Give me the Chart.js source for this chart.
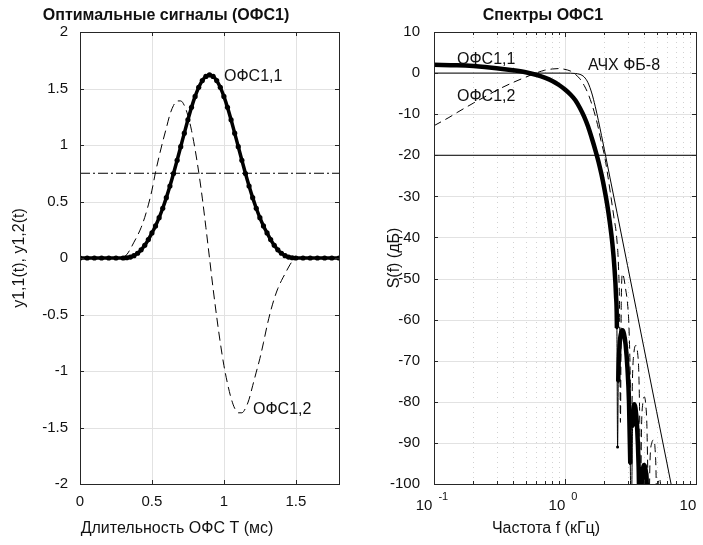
<!DOCTYPE html>
<html>
<head>
<meta charset="utf-8">
<script src="https://cdn.jsdelivr.net/npm/chart.js@4.4.1/dist/chart.umd.min.js"></script>
<style>
body { margin: 0; background: #fff; }
#wrap { position: relative; width: 703px; height: 545px; overflow: hidden; }
canvas { position: absolute; top: 0; }
</style>
</head>
<body>
<div id="wrap">
  <canvas id="sigChart" width="350" height="545" style="left:0"></canvas>
  <canvas id="specChart" width="353" height="545" style="left:350px"></canvas>
</div>
<script>
// ---- левый график: оптимальные сигналы ----
var timeMs = [0, 0.05, 0.1, 0.15, 0.2, 0.25,
  0.3, 0.325, 0.35, 0.375, 0.4, 0.425, 0.45, 0.475, 0.5, 0.525, 0.55, 0.575,
  0.6, 0.625, 0.65, 0.675, 0.7, 0.725, 0.75, 0.775, 0.8, 0.825, 0.85, 0.875,
  0.9, 0.925, 0.95, 0.975, 1.0, 1.025, 1.05, 1.075, 1.1, 1.125, 1.15, 1.175,
  1.2, 1.225, 1.25, 1.275, 1.3, 1.325, 1.35, 1.375, 1.4, 1.425, 1.45, 1.475, 1.5,
  1.55, 1.6, 1.65, 1.7, 1.75, 1.8];
var ofs11 = [0, 0, 0, 0, 0, 0,
  0, 0.002, 0.008, 0.021, 0.042, 0.072, 0.112, 0.163, 0.222, 0.284, 0.357, 0.440,
  0.534, 0.637, 0.748, 0.865, 0.985, 1.105, 1.223, 1.333, 1.430, 1.510, 1.570, 1.607,
  1.620, 1.607, 1.570, 1.510, 1.430, 1.333, 1.223, 1.105, 0.985, 0.865, 0.748, 0.637,
  0.534, 0.440, 0.357, 0.284, 0.222, 0.163, 0.112, 0.072, 0.042, 0.021, 0.008, 0.002, 0,
  0, 0, 0, 0, 0, 0];

var timeMs2 = [0.3, 0.325, 0.35, 0.375, 0.4, 0.425, 0.45, 0.475, 0.5, 0.525, 0.55, 0.575,
  0.6, 0.625, 0.65, 0.675, 0.7, 0.725, 0.75, 0.775, 0.8, 0.825, 0.85, 0.875,
  0.9, 0.925, 0.95, 0.975, 1.0, 1.025, 1.05, 1.075, 1.1, 1.125, 1.15, 1.175,
  1.2, 1.225, 1.25, 1.275, 1.3, 1.325, 1.35, 1.375, 1.4, 1.425, 1.45, 1.475, 1.5];
var ofs12 = [0.01, 0.03, 0.08, 0.14, 0.20, 0.27, 0.36, 0.47, 0.60, 0.76, 0.90, 1.03,
  1.15, 1.27, 1.35, 1.39, 1.39, 1.35, 1.26, 1.13, 0.96, 0.76, 0.53, 0.27,
  0, -0.27, -0.52, -0.75, -0.95, -1.11, -1.24, -1.33, -1.37, -1.37, -1.33, -1.25,
  -1.13, -1.01, -0.89, -0.75, -0.60, -0.47, -0.36, -0.27, -0.20, -0.14, -0.08, -0.03, -0.01];

var levelT = [0, 1.8];
var levelY = [0.75, 0.75];

var tTicks = [0, 0.5, 1, 1.5];
var tTickText = ['0', '0.5', '1', '1.5'];
var yTicksL = [-2, -1.5, -1, -0.5, 0, 0.5, 1, 1.5, 2];
var yTickTextL = ['-2', '-1.5', '-1', '-0.5', '0', '0.5', '1', '1.5', '2'];

// ---- правый график: спектры (кГц, дБ) ----
var specF11 = [0.1, 0.15, 0.2, 0.3, 0.4, 0.5, 0.6, 0.7, 0.8, 0.9, 1.0, 1.1, 1.2, 1.3, 1.4,
  1.5, 1.6, 1.7, 1.8, 1.9, 2.0, 2.1, 2.2, 2.3, 2.38, 2.45, 2.49, 2.52, 2.55, 2.6,
  2.67, 2.75, 2.82, 2.9, 3.0, 3.08, 3.15, 3.2, 3.28, 3.33, 3.38, 3.45, 3.55, 3.65,
  3.72, 3.85, 3.95, 4.03, 4.12, 4.22, 4.3];
var specDb11 = [2.0, 1.9, 1.7, 1.2, 0.7, 0.2, -0.4, -1.1, -1.9, -2.9, -4.0, -5.2, -6.6, -8.5, -10.6,
  -13.0, -15.8, -18.6, -21.5, -24.7, -28.2, -32.0, -36.4, -41.5, -47.0, -54.0, -62, -91, -75, -67,
  -63.5, -62.6, -63.5, -66, -72, -80, -95, -110, -86, -81.5, -80.6, -81.5, -86, -96,
  -110, -100, -96, -95.4, -96.5, -101, -115];

var specF12 = [0.1, 0.13, 0.15, 0.2, 0.25, 0.3, 0.4, 0.5, 0.6, 0.7, 0.8, 0.9, 1.0, 1.1, 1.2,
  1.3, 1.4, 1.5, 1.6, 1.7, 1.8, 1.88, 2.0, 2.1, 2.24, 2.36, 2.48, 2.56, 2.61, 2.65,
  2.69, 2.75, 2.82, 2.9, 3.0, 3.08, 3.15, 3.2, 3.27, 3.36, 3.48, 3.58, 3.66, 3.72,
  3.77, 3.84, 3.92, 4.03, 4.13, 4.22, 4.3, 4.36, 4.45, 4.6, 4.74, 4.86, 4.96, 5.02,
  5.1, 5.25, 5.38, 5.5];
var specDb12 = [-12.8, -10.8, -9.6, -7.3, -5.6, -4.2, -2.3, -1.0, 0.0, 0.7, 1.0, 1.1, 0.9, 0.5, -0.3,
  -1.4, -3.0, -5.0, -7.5, -10.3, -13.5, -16.4, -20, -24, -30, -35, -40, -47, -58, -85,
  -55, -48.8, -50, -52.5, -56, -62, -75, -95, -75, -68, -66.3, -68, -73, -85,
  -105, -86, -80.5, -78.8, -80.5, -86, -100, -110, -95, -90, -89.3, -91, -98, -110,
  -102, -98.6, -101, -110];

// АЧХ фильтра ФБ-8
var afcF = [0.1, 0.5, 1.0, 1.1, 1.2, 1.3, 1.4, 1.5, 1.6, 1.7, 1.8, 1.9, 2.0, 2.2, 2.5, 3.0, 3.5, 4.0, 5.0, 6.0, 7.0];
var afcDb = [0, 0, -0.005, -0.02, -0.09, -0.31, -0.94, -2.38, -4.84, -8.06, -11.6, -15.2, -18.7, -25.3,
  -34.1, -46.8, -57.5, -66.8, -82.3, -94.9, -105.7];

var levelF = [0.1, 10];
var levelDb = [-20, -20];

var decadeF = [0.1, 1, 10];
var decadeExp = ['-1', '0', '1'];
var minorF = [0.2, 0.3, 0.4, 0.5, 0.6, 0.7, 0.8, 0.9, 2, 3, 4, 5, 6, 7, 8, 9];
var yTicksR = [-100, -90, -80, -70, -60, -50, -40, -30, -20, -10, 0, 10];

var FONT = '"Liberation Sans", Arial, Helvetica, sans-serif';

function pairs(xs, ys) {
  return xs.map(function (x, i) { return { x: x, y: ys[i] }; });
}

function putText(ctx, s, x, y, size, align, bold) {
  ctx.font = (bold ? 'bold ' : '') + size + 'px ' + FONT;
  ctx.textAlign = align || 'left';
  ctx.textBaseline = 'middle';
  ctx.fillStyle = '#111';
  ctx.fillText(s, x, y);
}

function vLine(ctx, x, a) {
  var px = Math.round(x) + 0.5;
  ctx.beginPath(); ctx.moveTo(px, a.top); ctx.lineTo(px, a.bottom); ctx.stroke();
}
function hLine(ctx, y, a) {
  var py = Math.round(y) + 0.5;
  ctx.beginPath(); ctx.moveTo(a.left, py); ctx.lineTo(a.right, py); ctx.stroke();
}

function drawBox(ctx, a) {
  ctx.strokeStyle = '#262626';
  ctx.lineWidth = 1;
  ctx.setLineDash([]);
  ctx.strokeRect(Math.round(a.left) + 0.5, Math.round(a.top) + 0.5,
    Math.round(a.right) - Math.round(a.left), Math.round(a.bottom) - Math.round(a.top));
}

function xTicksIn(ctx, a, px, len) {
  var x = Math.round(px) + 0.5;
  ctx.beginPath();
  ctx.moveTo(x, a.bottom); ctx.lineTo(x, a.bottom - len);
  ctx.moveTo(x, a.top); ctx.lineTo(x, a.top + len);
  ctx.stroke();
}
function yTicksIn(ctx, a, py, len) {
  var y = Math.round(py) + 0.5;
  ctx.beginPath();
  ctx.moveTo(a.left, y); ctx.lineTo(a.left + len, y);
  ctx.moveTo(a.right, y); ctx.lineTo(a.right - len, y);
  ctx.stroke();
}

function rotText(ctx, s, x, y, size) {
  ctx.save();
  ctx.translate(x, y);
  ctx.rotate(-Math.PI / 2);
  putText(ctx, s, 0, 0, size, 'center');
  ctx.restore();
}

var sigFrame = {
  id: 'sigFrame',
  beforeDatasetsDraw: function (chart) {
    var ctx = chart.ctx, a = chart.chartArea;
    var xs = chart.scales.x, ys = chart.scales.y;
    ctx.save();
    ctx.strokeStyle = '#e2e2e2';
    ctx.lineWidth = 1;
    tTicks.forEach(function (v) { if (v > 0) vLine(ctx, xs.getPixelForValue(v), a); });
    yTicksL.forEach(function (v) { if (v > -2 && v < 2) hLine(ctx, ys.getPixelForValue(v), a); });

    putText(ctx, 'ОФС1,1', 224, 77, 16);
    putText(ctx, 'ОФС1,2', 253, 410, 16);
    ctx.restore();
  },
  afterDatasetsDraw: function (chart) {
    var ctx = chart.ctx, a = chart.chartArea;
    var xs = chart.scales.x, ys = chart.scales.y;
    ctx.save();
    drawBox(ctx, a);
    tTicks.forEach(function (v) { xTicksIn(ctx, a, xs.getPixelForValue(v), 4); });
    yTicksL.forEach(function (v) { yTicksIn(ctx, a, ys.getPixelForValue(v), 4); });

    tTicks.forEach(function (v, i) { putText(ctx, tTickText[i], xs.getPixelForValue(v), 502, 15, 'center'); });
    yTicksL.forEach(function (v, i) { putText(ctx, yTickTextL[i], 68, ys.getPixelForValue(v), 15, 'right'); });

    putText(ctx, 'Оптимальные сигналы (ОФС1)', 166, 16, 16, 'center', true);
    putText(ctx, 'Длительность ОФС T (мс)', 177, 529, 16, 'center');
    rotText(ctx, 'y1,1(t), y1,2(t)', 20, 258, 16);
    ctx.restore();
  }
};

var specFrame = {
  id: 'specFrame',
  beforeDatasetsDraw: function (chart) {
    var ctx = chart.ctx, a = chart.chartArea;
    var xs = chart.scales.x, ys = chart.scales.y;
    ctx.save();
    ctx.lineWidth = 1;
    ctx.strokeStyle = '#d2d2d2';
    ctx.setLineDash([1, 4]);
    minorF.forEach(function (v) { vLine(ctx, xs.getPixelForValue(v), a); });
    ctx.setLineDash([]);
    ctx.strokeStyle = '#e2e2e2';
    vLine(ctx, xs.getPixelForValue(1), a);
    yTicksR.forEach(function (v) { if (v > -100 && v < 10) hLine(ctx, ys.getPixelForValue(v), a); });

    putText(ctx, 'ОФС1,1', 107, 60, 16);
    putText(ctx, 'ОФС1,2', 107, 97, 16);
    putText(ctx, 'АЧХ ФБ-8', 238, 66, 16);
    ctx.restore();
  },
  afterDatasetsDraw: function (chart) {
    var ctx = chart.ctx, a = chart.chartArea;
    var xs = chart.scales.x, ys = chart.scales.y;
    ctx.save();
    drawBox(ctx, a);
    minorF.forEach(function (v) { xTicksIn(ctx, a, xs.getPixelForValue(v), 3); });
    decadeF.forEach(function (v) { xTicksIn(ctx, a, xs.getPixelForValue(v), 5); });
    yTicksR.forEach(function (v) { yTicksIn(ctx, a, ys.getPixelForValue(v), 4); });

    yTicksR.forEach(function (v) { putText(ctx, String(v), 70, ys.getPixelForValue(v), 15, 'right'); });

    // подписи декад: 10 с показателем степени
    decadeF.forEach(function (v, i) {
      var px = xs.getPixelForValue(v);
      ctx.font = '15px ' + FONT;
      var wb = ctx.measureText('10').width;
      ctx.font = '11px ' + FONT;
      var we = ctx.measureText(decadeExp[i]).width;
      var gap = 6;
      var x0 = px - 2 - (wb + gap + we) / 2;
      putText(ctx, '10', x0, 506, 15, 'left');
      putText(ctx, decadeExp[i], x0 + wb + gap, 497, 11, 'left');
    });

    putText(ctx, 'Спектры ОФС1', 193, 16, 16, 'center', true);
    putText(ctx, 'Частота f (кГц)', 196, 529, 16, 'center');
    rotText(ctx, 'S(f) (дБ)', 45, 258, 16);
    ctx.restore();
  }
};

var sigChart = new Chart(document.getElementById('sigChart'), {
  type: 'line',
  data: {
    datasets: [{
      label: 'ОФС1,1',
      data: pairs(timeMs, ofs11),
      borderColor: '#000',
      borderWidth: 3.5,
      pointRadius: 2.6,
      pointBackgroundColor: '#000',
      pointBorderWidth: 0,
      cubicInterpolationMode: 'monotone'
    }, {
      label: 'ОФС1,2',
      data: pairs(timeMs2, ofs12),
      borderColor: '#000',
      borderWidth: 1,
      borderDash: [9, 5],
      pointRadius: 0,
      cubicInterpolationMode: 'monotone'
    }, {
      label: 'уровень',
      data: pairs(levelT, levelY),
      borderColor: '#000',
      borderWidth: 1,
      borderDash: [10, 3, 2, 3],
      pointRadius: 0
    }]
  },
  options: {
    responsive: false,
    animation: false,
    devicePixelRatio: 1,
    layout: { padding: { top: 32, right: 11, left: 0, bottom: 0 } },
    plugins: { legend: { display: false }, tooltip: { enabled: false } },
    scales: {
      x: {
        type: 'linear', min: 0, max: 1.8,
        grid: { display: false, drawTicks: false },
        border: { display: false },
        ticks: { display: false },
        afterFit: function (s) { s.height = 61; }
      },
      y: {
        type: 'linear', min: -2, max: 2,
        grid: { display: false, drawTicks: false },
        border: { display: false },
        ticks: { display: false },
        afterFit: function (s) { s.width = 80; }
      }
    }
  },
  plugins: [sigFrame]
});

var specChart = new Chart(document.getElementById('specChart'), {
  type: 'line',
  data: {
    datasets: [{
      label: 'ОФС1,1',
      data: pairs(specF11, specDb11),
      borderColor: '#000',
      borderWidth: 4.5,
      pointRadius: 1.5,
      pointBackgroundColor: '#000',
      pointBorderWidth: 0,
      cubicInterpolationMode: 'monotone',
      segment: {
        borderWidth: function (c) {
          var dx = Math.abs(c.p1.x - c.p0.x), dy = Math.abs(c.p1.y - c.p0.y);
          return dy > 40 * dx + 20 ? 1 : 4.5;
        }
      }
    }, {
      label: 'ОФС1,2',
      data: pairs(specF12, specDb12),
      borderColor: '#000',
      borderWidth: 1,
      borderDash: [8, 5],
      pointRadius: 0,
      cubicInterpolationMode: 'monotone'
    }, {
      label: 'АЧХ ФБ-8',
      data: pairs(afcF, afcDb),
      borderColor: '#000',
      borderWidth: 1,
      pointRadius: 0,
      cubicInterpolationMode: 'monotone'
    }, {
      label: '-20 дБ',
      data: pairs(levelF, levelDb),
      borderColor: '#000',
      borderWidth: 1,
      pointRadius: 0
    }]
  },
  options: {
    responsive: false,
    animation: false,
    devicePixelRatio: 1,
    layout: { padding: { top: 32, right: 7, left: 0, bottom: 0 } },
    plugins: { legend: { display: false }, tooltip: { enabled: false } },
    scales: {
      x: {
        type: 'logarithmic', min: 0.1, max: 10,
        grid: { display: false, drawTicks: false },
        border: { display: false },
        ticks: { display: false },
        afterFit: function (s) { s.height = 61; }
      },
      y: {
        type: 'linear', min: -100, max: 10,
        grid: { display: false, drawTicks: false },
        border: { display: false },
        ticks: { display: false },
        afterFit: function (s) { s.width = 84; }
      }
    }
  },
  plugins: [specFrame]
});
</script>
</body>
</html>
